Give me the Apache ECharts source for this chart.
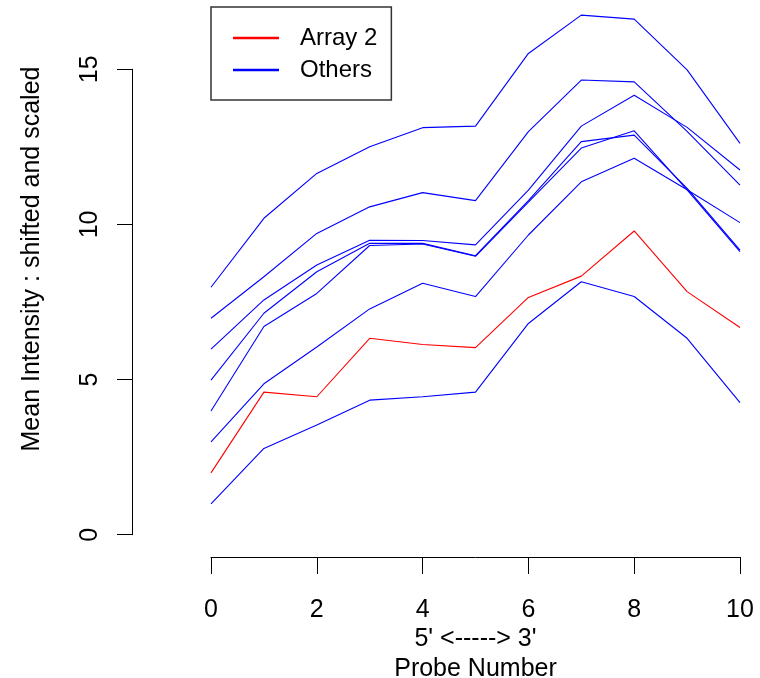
<!DOCTYPE html>
<html>
<head>
<meta charset="utf-8">
<script src="https://cdn.jsdelivr.net/npm/echarts@6/dist/echarts.min.js"></script>
<style>
  html, body { margin: 0; padding: 0; background: #fff; }
  #main { width: 760px; height: 678px; }
</style>
</head>
<body>
<div id="main"></div>
<script>
// probe positions 0..10 (5' -> 3')
var probes = [0, 1, 2, 3, 4, 5, 6, 7, 8, 9, 10];

// highlighted array
var array2 = [2, 4.61, 4.46, 6.35, 6.15, 6.05, 7.67, 8.36, 9.82, 7.86, 6.70];

// the other arrays, shifted by 1 each
var arr1 = [1, 2.79, 3.55, 4.35, 4.46, 4.61, 6.83, 8.18, 7.70, 6.35, 4.27];
var arr3 = [3, 4.88, 6.07, 7.30, 8.13, 7.70, 9.69, 11.41, 12.17, 11.15, 10.09];
var arr4 = [4, 6.73, 7.80, 9.35, 9.40, 9.00, 10.75, 12.50, 13.06, 11.15, 9.15];
var arr5 = [5, 7.16, 8.50, 9.42, 9.42, 9.02, 10.80, 12.71, 12.92, 11.20, 9.20];
var arr6 = [6, 7.59, 8.72, 9.52, 9.51, 9.37, 11.14, 13.21, 14.21, 13.17, 11.79];
var arr7 = [7, 8.34, 9.74, 10.60, 11.06, 10.80, 13.03, 14.70, 14.64, 13.04, 11.30];
var arr8 = [8, 10.23, 11.68, 12.54, 13.16, 13.21, 15.56, 16.80, 16.67, 15.03, 12.65];

var yTitle = 'Mean Intensity : shifted and scaled';
var xTitle = "5' <-----> 3'\nProbe Number";

var fontFam = "'Liberation Sans', Arial, sans-serif";

function pairs(vals) {
     return probes.map(function (p, i) { return [p, vals[i]]; });
}

function lineSeries(name, vals, color) {
     return {
          name: name,
          type: 'line',
          xAxisIndex: 0,
          yAxisIndex: 0,
          symbol: 'none',
          lineStyle: { color: color, width: 1.1 },
          itemStyle: { color: color },
          data: pairs(vals)
     };
}

var chart = echarts.init(document.getElementById('main'));

chart.setOption({
     animation: false,
     backgroundColor: '#fff',
     textStyle: { fontFamily: fontFam },
     legend: {
          data: ['Array 2', 'Others'],
          orient: 'vertical',
          left: 211,
          top: 7,
          padding: [19, 14, 18, 22],
          itemGap: 8,
          itemWidth: 46,
          itemHeight: 2.5,
          icon: 'rect',
          borderColor: '#333',
          borderWidth: 1.5,
          backgroundColor: '#fff',
          textStyle: {
               fontSize: 24,
               color: '#000',
               fontFamily: fontFam,
               padding: [0, 0, 0, 16]
          }
     },
     graphic: [{
          type: 'text',
          x: 32,
          y: 259,
          rotation: Math.PI / 2,
          style: {
               text: yTitle,
               font: '25px ' + fontFam,
               fill: '#000',
               align: 'center',
               verticalAlign: 'middle'
          }
     }],
     grid: [
          // data area
          { left: 211, right: 20, top: 8.9, bottom: 143.3, outerBoundsMode: 'none' },
          // y axis only
          { left: 132, width: 1, top: 69.3, bottom: 143.3, outerBoundsMode: 'none' },
          // x axis only
          { left: 211, right: 20, top: 400, bottom: 121, outerBoundsMode: 'none' }
     ],
     xAxis: [
          { gridIndex: 0, type: 'value', min: 0, max: 10, show: false },
          { gridIndex: 1, type: 'value', min: 0, max: 1, show: false },
          {
               gridIndex: 2, type: 'value', min: 0, max: 10, interval: 2,
               position: 'bottom',
               axisLine: { show: true, lineStyle: { color: '#000', width: 1 } },
               axisTick: { show: true, length: 17, lineStyle: { color: '#000' } },
               axisLabel: { fontSize: 25, color: '#000', margin: 41, fontFamily: fontFam },
               splitLine: { show: false },
               name: xTitle,
               nameLocation: 'middle',
               nameGap: 64,
               nameTextStyle: { fontSize: 25, color: '#000', lineHeight: 30, fontFamily: fontFam }
          }
     ],
     yAxis: [
          { gridIndex: 0, type: 'value', min: 0, max: 17, show: false },
          {
               gridIndex: 1, type: 'value', min: 0, max: 15, interval: 5,
               position: 'left',
               axisLine: { show: true, lineStyle: { color: '#000', width: 1 } },
               axisTick: { show: true, length: 15, lineStyle: { color: '#000' } },
               axisLabel: { fontSize: 25, color: '#000', rotate: 90, margin: 29, fontFamily: fontFam },
               splitLine: { show: false }
          },
          { gridIndex: 2, type: 'value', min: 0, max: 1, show: false }
     ],
     series: [
          lineSeries('Others', arr1, '#0000ff'),
          lineSeries('Array 2', array2, '#ff0000'),
          lineSeries('Others', arr3, '#0000ff'),
          lineSeries('Others', arr4, '#0000ff'),
          lineSeries('Others', arr5, '#0000ff'),
          lineSeries('Others', arr6, '#0000ff'),
          lineSeries('Others', arr7, '#0000ff'),
          lineSeries('Others', arr8, '#0000ff')
     ]
});
</script>
</body>
</html>
